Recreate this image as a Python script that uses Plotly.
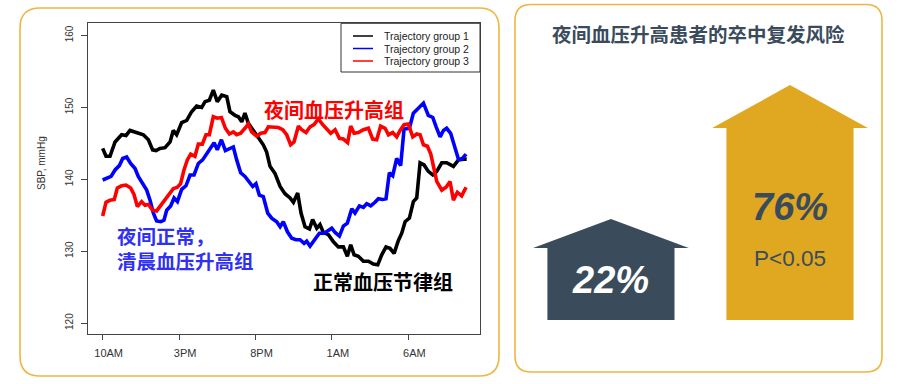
import plotly.graph_objects as go

# ---------------- data ----------------
tick_hours = [0, 5, 10, 15, 20]
tick_labels = ["10AM", "3PM", "8PM", "1AM", "6AM"]
series_names = ["Trajectory group 1", "Trajectory group 2", "Trajectory group 3"]

g1_hours = [0.00, 0.22, 0.48, 0.81, 1.24, 1.53, 1.79, 2.23, 2.66, 2.99, 3.27, 3.49, 3.75, 4.08, 4.41, 4.62,
            4.84, 5.17, 5.50, 5.82, 6.15, 6.48, 6.70, 6.98, 7.24, 7.50, 7.79, 8.12, 8.33, 8.66, 8.88, 9.10,
            9.31, 9.53, 9.86, 10.19, 10.51, 10.73, 10.95, 11.28, 11.61, 11.93, 12.26, 12.48, 12.76, 12.98,
            13.24, 13.53, 13.74, 14.01, 14.22, 14.44, 14.77, 15.10, 15.42, 15.75, 16.01, 16.23, 16.45, 16.73,
            17.06, 17.39, 17.71, 18.00, 18.26, 18.54, 18.80, 19.07, 19.35, 19.57, 19.79, 20.07, 20.33, 20.55,
            20.77, 21.03, 21.31, 21.60, 21.86, 22.19, 22.51, 22.95, 23.28, 23.60, 23.82]
g1_sbp = [144.3, 143.2, 143.2, 145.2, 146.2, 146.1, 146.8, 146.5, 146.2, 145.5, 144.1, 144.0, 144.3, 144.4,
          145.2, 146.8, 146.2, 147.9, 148.2, 149.4, 150.2, 150.0, 150.8, 151.0, 152.4, 150.8, 151.7, 151.5,
          149.4, 148.9, 148.7, 148.0, 149.2, 147.8, 146.8, 145.9, 144.8, 143.8, 141.8, 140.8, 139.0, 138.0,
          137.4, 136.8, 138.1, 135.3, 133.4, 133.1, 134.4, 133.2, 133.7, 132.6, 132.3, 131.3, 130.6, 130.6,
          129.3, 130.9, 129.5, 129.3, 128.6, 128.6, 128.2, 128.1, 129.5, 130.6, 130.4, 129.7, 131.5, 132.5,
          134.1, 134.6, 136.9, 137.4, 142.3, 142.0, 141.1, 140.6, 141.1, 142.3, 142.3, 141.8, 142.7, 142.8,
          142.8]

g2_hours = [0.00, 0.26, 0.55, 0.81, 1.09, 1.31, 1.57, 1.83, 2.12, 2.33, 2.62, 2.88, 3.10, 3.32, 3.53, 3.80,
            4.01, 4.19, 4.45, 4.67, 4.89, 5.17, 5.45, 5.72, 5.98, 6.26, 6.54, 6.81, 7.07, 7.29, 7.50, 7.77,
            8.03, 8.33, 8.55, 8.77, 9.03, 9.31, 9.60, 9.82, 10.03, 10.25, 10.51, 10.80, 11.06, 11.39, 11.61,
            11.82, 12.09, 12.37, 12.65, 12.91, 13.18, 13.35, 13.57, 13.85, 14.18, 14.49, 14.77, 14.99, 15.21,
            15.49, 15.75, 16.01, 16.30, 16.51, 16.80, 17.06, 17.28, 17.54, 17.82, 18.04, 18.32, 18.54, 18.76,
            18.98, 19.24, 19.50, 19.72, 20.07, 20.33, 20.66, 20.99, 21.31, 21.60, 21.82, 22.08, 22.30, 22.51,
            22.77, 23.06, 23.28, 23.49, 23.78]
g2_sbp = [139.9, 140.1, 140.4, 141.3, 141.9, 142.9, 143.1, 142.2, 141.5, 140.4, 139.5, 138.5, 137.1, 135.3,
          134.2, 134.1, 134.3, 135.7, 136.3, 137.4, 136.9, 138.6, 139.1, 140.6, 140.6, 142.2, 142.7, 143.6,
          144.4, 145.1, 144.1, 145.5, 144.0, 144.3, 144.5, 142.7, 140.9, 140.4, 139.5, 139.0, 139.4, 137.8,
          137.6, 135.3, 134.6, 134.1, 133.4, 134.1, 132.7, 131.8, 131.6, 131.6, 131.1, 131.4, 130.7, 131.6,
          132.5, 132.5, 132.9, 133.2, 132.6, 132.1, 133.5, 133.9, 135.9, 135.3, 136.3, 136.1, 136.6, 136.3,
          136.8, 137.3, 137.2, 137.3, 140.9, 140.5, 142.9, 141.9, 147.0, 147.1, 149.2, 149.9, 150.6, 148.9,
          148.6, 147.3, 145.9, 146.8, 147.1, 146.4, 144.5, 142.8, 142.8, 143.5]

g3_hours = [0.00, 0.22, 0.48, 0.76, 0.96, 1.24, 1.53, 1.83, 2.05, 2.27, 2.55, 2.77, 2.99, 3.27, 3.53, 3.80,
            4.08, 4.36, 4.62, 4.89, 5.10, 5.32, 5.54, 5.76, 6.04, 6.26, 6.52, 6.76, 6.98, 7.24, 7.50, 7.77,
            8.03, 8.29, 8.55, 8.77, 9.03, 9.31, 9.53, 9.75, 10.08, 10.34, 10.62, 10.84, 11.17, 11.50, 11.78,
            12.04, 12.30, 12.52, 12.81, 13.02, 13.31, 13.57, 13.83, 14.11, 14.40, 14.66, 14.92, 15.21, 15.49,
            15.75, 16.03, 16.23, 16.45, 16.73, 17.06, 17.39, 17.67, 17.93, 18.19, 18.48, 18.70, 18.98, 19.24,
            19.46, 19.72, 20.00, 20.29, 20.55, 20.77, 20.99, 21.25, 21.47, 21.64, 21.86, 22.19, 22.47, 22.73,
            22.95, 23.21, 23.49, 23.78]
g3_sbp = [134.9, 136.8, 137.1, 137.2, 138.8, 139.1, 139.2, 138.8, 137.9, 136.2, 136.9, 136.4, 136.5, 135.7,
          135.6, 136.4, 137.3, 138.0, 138.7, 138.9, 139.4, 141.3, 142.7, 143.5, 143.2, 144.9, 144.9, 146.2,
          146.2, 148.7, 148.5, 148.6, 147.1, 146.3, 146.6, 146.2, 146.4, 147.1, 147.7, 146.6, 146.0, 146.4,
          146.5, 147.3, 147.3, 147.2, 146.9, 146.2, 144.8, 145.2, 147.4, 146.9, 146.5, 147.3, 147.6, 148.4,
          147.6, 146.9, 146.4, 146.9, 145.7, 145.6, 145.1, 147.4, 146.4, 146.5, 146.9, 147.1, 145.6, 145.5,
          147.4, 147.1, 146.2, 146.5, 145.9, 146.8, 147.6, 147.7, 145.9, 146.3, 146.2, 144.8, 144.6, 143.5,
          141.8, 139.7, 138.5, 138.9, 139.7, 137.1, 138.2, 137.7, 138.9]

group_labels = ["正常血压节律组", "夜间正常，", "清晨血压升高组", "夜间血压升高组"]

risk_values = [22, 76]
risk_labels = ["22%", "76%"]
risk_title = "夜间血压升高患者的卒中复发风险"
p_label = "P<0.05"

# ---------------- helpers (pixel -> paper) ----------------
W, H = 901, 384
def px(x):
    return x / W
def py(y):
    return 1 - y / H

def rrect(x0, y0, x1, y1, r):
    pts = [
        ("M", [(x0 + r, y0)]), ("L", [(x1 - r, y0)]), ("Q", [(x1, y0), (x1, y0 + r)]),
        ("L", [(x1, y1 - r)]), ("Q", [(x1, y1), (x1 - r, y1)]), ("L", [(x0 + r, y1)]),
        ("Q", [(x0, y1), (x0, y1 - r)]), ("L", [(x0, y0 + r)]), ("Q", [(x0, y0), (x0 + r, y0)]),
    ]
    s = ""
    for cmd, ps in pts:
        s += cmd + " " + " ".join(f"{px(a):.5f},{py(b):.5f}" for a, b in ps) + " "
    return s + "Z"

CJK = "Noto Sans CJK SC"
ARIAL = "Liberation Sans, Arial, sans-serif"
SLATE = "#3A4B5C"
GOLD = "#E0A820"
BORDER = "#EDB740"
LINE_COLORS = ["#000000", "#0000FF", "#FF0000"]

fig = go.Figure()

# ---------------- left: trajectory lines ----------------
for name, xs, ys, col in [
    (series_names[0], g1_hours, g1_sbp, LINE_COLORS[0]),
    (series_names[1], g2_hours, g2_sbp, LINE_COLORS[1]),
    (series_names[2], g3_hours, g3_sbp, LINE_COLORS[2]),
]:
    fig.add_trace(go.Scatter(x=xs, y=ys, mode="lines", name=name, showlegend=False,
                             line=dict(color=col, width=3.6), xaxis="x", yaxis="y"))

# ---------------- right: arrows ----------------
base = -18.7
body_hw = 0.355
head_hw = 0.435
head_depth = [11.7, 17.3]
arrow_colors = [SLATE, GOLD]
for i, (v, col) in enumerate(zip(risk_values, arrow_colors)):
    c = i
    hb = v - head_depth[i]
    xs = [c - body_hw, c - body_hw, c - head_hw, c, c + head_hw, c + body_hw, c + body_hw, c - body_hw]
    ys = [base, hb, hb, v, hb, hb, base, base]
    fig.add_trace(go.Scatter(x=xs, y=ys, fill="toself", fillcolor=col, mode="lines",
                             line=dict(color=col, width=0), showlegend=False, hoverinfo="skip",
                             xaxis="x2", yaxis="y2"))

# ---------------- layout ----------------
fig.update_layout(
    width=W, height=H, autosize=False,
    margin=dict(l=0, r=0, t=0, b=0),
    paper_bgcolor="white", plot_bgcolor="white",
    showlegend=False,
    xaxis=dict(domain=[px(88.3), px(480)], range=[-0.94, 24.69],
               tickvals=tick_hours, ticktext=tick_labels,
               showgrid=False, zeroline=False,
               showline=True, mirror=True, linecolor="#444444", linewidth=1,
               ticks="outside", ticklen=5, tickcolor="#444444",
               ticklabelshift=6, ticklabelstandoff=3,
               tickfont=dict(family=ARIAL, size=11, color="#333333")),
    yaxis=dict(domain=[py(334.3), py(23.3)], range=[118.44, 161.70],
               tickvals=[120, 130, 140, 150, 160],
               showgrid=False, zeroline=False,
               showline=True, mirror=True, linecolor="#444444", linewidth=1,
               ticks="outside", ticklen=6, tickcolor="#444444",
               tickangle=-90, ticklabelstandoff=4,
               tickfont=dict(family=ARIAL, size=10, color="#333333")),
    xaxis2=dict(domain=[px(515), px(882)], range=[-0.536, 1.514], visible=False,
                fixedrange=True),
    yaxis2=dict(domain=[0, 1], range=[-44.52, 110.32], visible=False, fixedrange=True,
                anchor="x2"),
)

# boxes
fig.add_shape(type="path", path=rrect(20, 8, 499, 376, 20), xref="paper", yref="paper",
              line=dict(color=BORDER, width=1.6), layer="below")
fig.add_shape(type="path", path=rrect(515, 4.5, 882, 372, 16), xref="paper", yref="paper",
              line=dict(color=BORDER, width=1.6), layer="below")

# legend box (drawn like R's legend)
fig.add_shape(type="rect", x0=px(341), x1=px(480), y0=py(72), y1=py(23.3), xref="paper", yref="paper",
              line=dict(color="#333333", width=1), fillcolor="white", layer="above")
for k, (nm, col) in enumerate(zip(series_names, LINE_COLORS)):
    yk = 36 + 12.5 * k
    fig.add_shape(type="line", x0=px(353), x1=px(373), y0=py(yk), y1=py(yk), xref="paper", yref="paper",
                  line=dict(color=col, width=1.5), layer="above")
    fig.add_annotation(x=px(382), y=py(yk), xref="paper", yref="paper", text=nm,
                       xanchor="left", yanchor="middle", showarrow=False,
                       font=dict(family=ARIAL, size=10.5, color="#222222"))

# y title
fig.add_annotation(x=px(41), y=py(163), xref="paper", yref="paper", text="SBP, mmHg",
                   textangle=-90, showarrow=False, xanchor="center", yanchor="middle",
                   font=dict(family=ARIAL, size=10, color="#333333"))

# group labels
fig.add_annotation(x=px(262), y=py(109), xref="paper", yref="paper", text=f"<b>{group_labels[3]}</b>",
                   xanchor="left", yanchor="middle", showarrow=False,
                   font=dict(family=CJK, size=20, color="#FF0000"))
fig.add_annotation(x=px(115), y=py(248), xref="paper", yref="paper",
                   text=f"<b>{group_labels[1]}<br>{group_labels[2]}</b>",
                   xanchor="left", yanchor="middle", align="left", showarrow=False,
                   font=dict(family=CJK, size=19.5, color="#3030F5"))
fig.add_annotation(x=px(311), y=py(281), xref="paper", yref="paper", text=f"<b>{group_labels[0]}</b>",
                   xanchor="left", yanchor="middle", showarrow=False,
                   font=dict(family=CJK, size=20, color="#000000"))

# right panel texts
fig.add_annotation(x=px(698), y=py(33), xref="paper", yref="paper", text=f"<b>{risk_title}</b>",
                   xanchor="center", yanchor="middle",
                   showarrow=False, font=dict(family=CJK, size=19.5, color=SLATE))
fig.add_annotation(x=0, y=-2.6, xref="x2", yref="y2", text=f"<b><i>{risk_labels[0]}</i></b>",
                   xanchor="center", yanchor="middle",
                   showarrow=False, font=dict(family=ARIAL, size=38, color="white"))
fig.add_annotation(x=1, y=26.9, xref="x2", yref="y2", text=f"<b><i>{risk_labels[1]}</i></b>",
                   xanchor="center", yanchor="middle",
                   showarrow=False, font=dict(family=ARIAL, size=38, color=SLATE))
fig.add_annotation(x=1, y=5.9, xref="x2", yref="y2", text=p_label,
                   xanchor="center", yanchor="middle",
                   showarrow=False, font=dict(family=ARIAL, size=22.5, color=SLATE))

fig.write_html("out.html",
               config={"displayModeBar": False},
               post_script="document.body.style.margin='0';document.body.style.padding='0';"
                           "document.body.style.overflow='hidden';")
